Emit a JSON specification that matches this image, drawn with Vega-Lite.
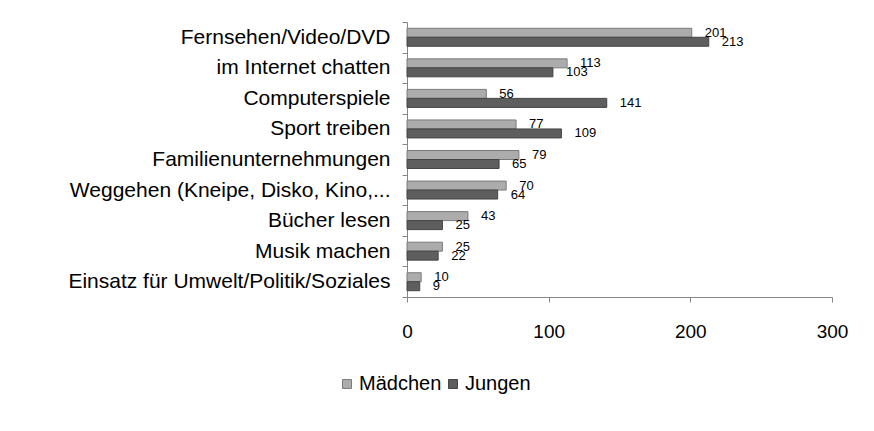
{
  "$schema": "https://vega.github.io/schema/vega-lite/v6.json",
  "width": 425,
  "height": 275,
  "autosize": "none",
  "padding": {"left": 407, "top": 22, "right": 42, "bottom": 134},
  "background": "white",
  "config": {
    "view": {"stroke": null},
    "font": "Liberation Sans",
    "axis": {"grid": false, "domainColor": "#868686", "tickColor": "#868686", "labelColor": "#000000", "labelFont": "Liberation Sans"}
  },
  "data": {
    "values": [
      {"Aktivität": "Fernsehen/Video/DVD", "Geschlecht": "Mädchen", "Anzahl": 201},
      {"Aktivität": "Fernsehen/Video/DVD", "Geschlecht": "Jungen", "Anzahl": 213},
      {"Aktivität": "im Internet chatten", "Geschlecht": "Mädchen", "Anzahl": 113},
      {"Aktivität": "im Internet chatten", "Geschlecht": "Jungen", "Anzahl": 103},
      {"Aktivität": "Computerspiele", "Geschlecht": "Mädchen", "Anzahl": 56},
      {"Aktivität": "Computerspiele", "Geschlecht": "Jungen", "Anzahl": 141},
      {"Aktivität": "Sport treiben", "Geschlecht": "Mädchen", "Anzahl": 77},
      {"Aktivität": "Sport treiben", "Geschlecht": "Jungen", "Anzahl": 109},
      {"Aktivität": "Familienunternehmungen", "Geschlecht": "Mädchen", "Anzahl": 79},
      {"Aktivität": "Familienunternehmungen", "Geschlecht": "Jungen", "Anzahl": 65},
      {"Aktivität": "Weggehen (Kneipe, Disko, Kino,...", "Geschlecht": "Mädchen", "Anzahl": 70},
      {"Aktivität": "Weggehen (Kneipe, Disko, Kino,...", "Geschlecht": "Jungen", "Anzahl": 64},
      {"Aktivität": "Bücher lesen", "Geschlecht": "Mädchen", "Anzahl": 43},
      {"Aktivität": "Bücher lesen", "Geschlecht": "Jungen", "Anzahl": 25},
      {"Aktivität": "Musik machen", "Geschlecht": "Mädchen", "Anzahl": 25},
      {"Aktivität": "Musik machen", "Geschlecht": "Jungen", "Anzahl": 22},
      {"Aktivität": "Einsatz für Umwelt/Politik/Soziales", "Geschlecht": "Mädchen", "Anzahl": 10},
      {"Aktivität": "Einsatz für Umwelt/Politik/Soziales", "Geschlecht": "Jungen", "Anzahl": 9}
    ]
  },
  "encoding": {
    "y": {
      "field": "Aktivität", "type": "nominal", "sort": null,
      "scale": {"paddingInner": 0, "paddingOuter": 0},
      "axis": {"title": null, "tickBand": "extent", "tickSize": 5, "labelPadding": 12, "labelFontSize": 21, "labelLimit": 400}
    },
    "yOffset": {
      "field": "Geschlecht", "type": "nominal", "sort": ["Mädchen", "Jungen"],
      "scale": {"paddingInner": 0, "paddingOuter": 0.7}
    },
    "x": {
      "field": "Anzahl", "type": "quantitative",
      "scale": {"domain": [0, 300], "nice": false},
      "axis": {"title": null, "values": [0, 100, 200, 300], "tickSize": 5, "labelPadding": 20, "labelFontSize": 19, "labelFlush": false}
    }
  },
  "layer": [
    {
      "mark": {"type": "bar", "strokeWidth": 1},
      "encoding": {
        "fill": {
          "field": "Geschlecht", "type": "nominal", "sort": ["Mädchen", "Jungen"],
          "scale": {"domain": ["Mädchen", "Jungen"], "range": ["#acacac", "#5e5e5e"]},
          "legend": {
            "title": null, "orient": "none", "direction": "horizontal",
            "legendX": -70, "legendY": 352,
            "symbolType": "square", "symbolSize": 80, "symbolStrokeWidth": 1,
            "labelFontSize": 20, "labelColor": "#000000", "labelOffset": 2, "columnPadding": 1
          }
        },
        "stroke": {
          "field": "Geschlecht", "type": "nominal", "sort": ["Mädchen", "Jungen"],
          "scale": {"domain": ["Mädchen", "Jungen"], "range": ["#7a7a7a", "#444444"]},
          "legend": {
            "title": null, "orient": "none", "direction": "horizontal",
            "legendX": -70, "legendY": 352,
            "symbolType": "square", "symbolSize": 80, "symbolStrokeWidth": 1,
            "labelFontSize": 20, "labelColor": "#000000", "labelOffset": 2, "columnPadding": 1
          }
        }
      }
    },
    {
      "mark": {"type": "text", "align": "left", "baseline": "middle", "dx": 13, "fontSize": 13, "color": "#000000"},
      "encoding": {
        "text": {"field": "Anzahl", "type": "quantitative"}
      }
    }
  ]
}
